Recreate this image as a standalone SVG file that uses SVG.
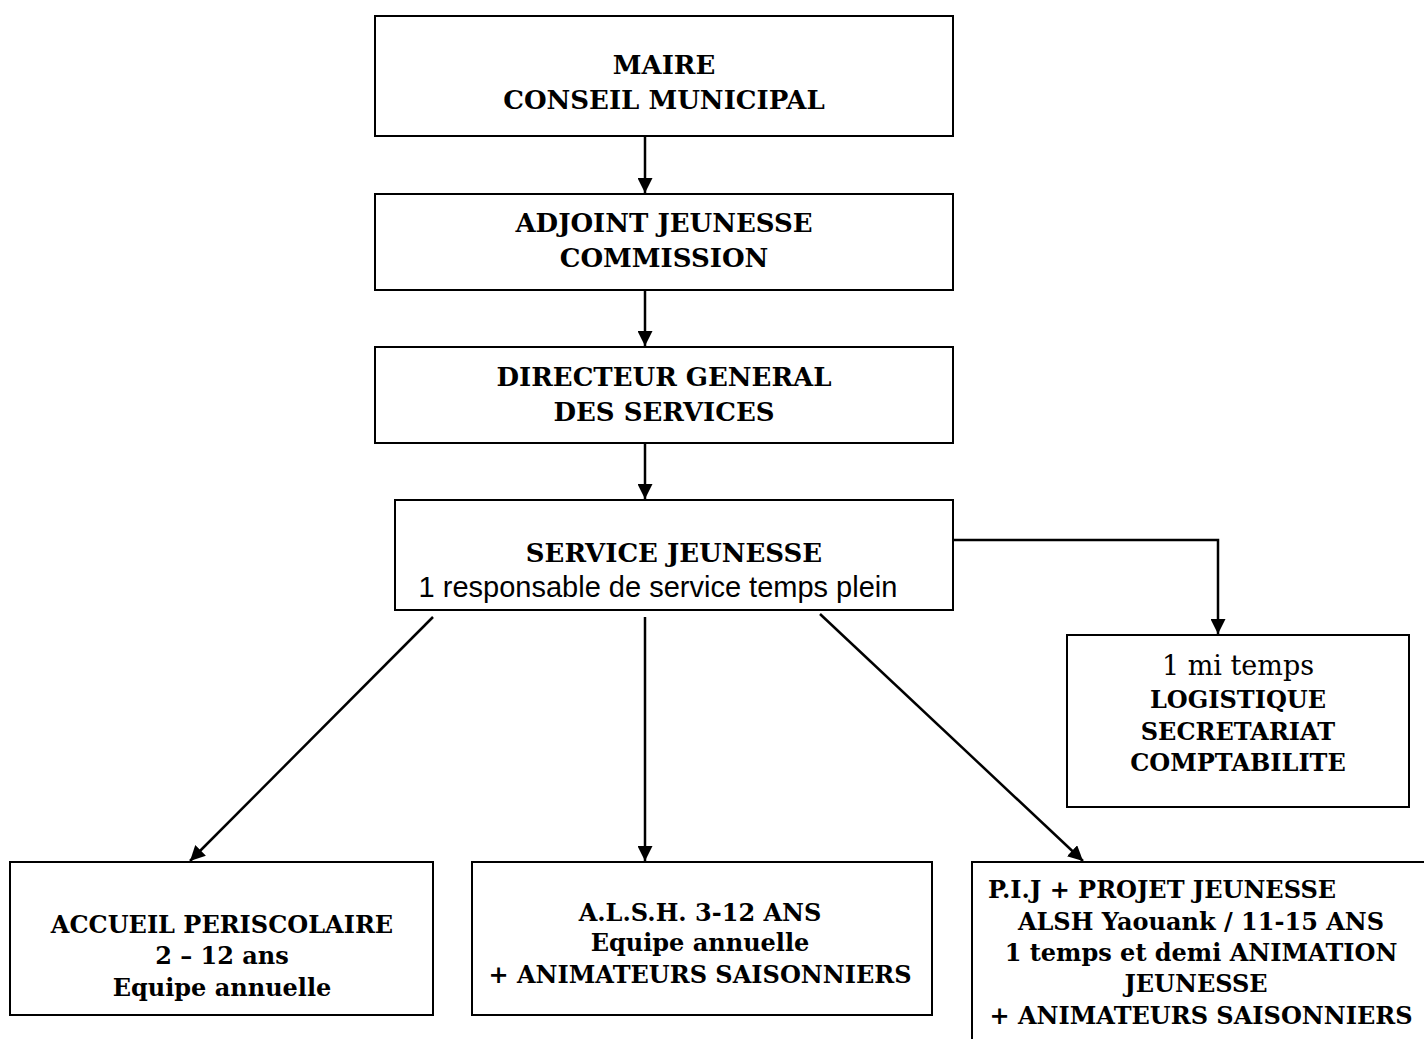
<svg xmlns="http://www.w3.org/2000/svg" width="1424" height="1039" viewBox="0 0 1424 1039">
<defs>
<marker id="ah" viewBox="0 0 10 10" refX="10" refY="5" markerWidth="6" markerHeight="6" markerUnits="strokeWidth" orient="auto">
<path d="M0,0 L10,5 L0,10 z" fill="#000"/>
</marker>
<style>
.box{fill:#fff;stroke:#000;stroke-width:2}
.t{font-family:"DejaVu Serif","Liberation Serif",serif;font-weight:bold;font-size:26px;text-anchor:middle;fill:#000}
.s{font-size:24px}
.r{font-weight:normal;font-size:27px}
.a{font-family:"Liberation Sans",Arial,sans-serif;font-weight:normal;font-size:29px}
.c{fill:none;stroke:#000;stroke-width:2.5;marker-end:url(#ah)}
</style>
</defs>
<rect width="1424" height="1039" fill="#fff"/>
<g id="connectors">
<path class="c" d="M645,137 V193"/>
<path class="c" d="M645,291 V346"/>
<path class="c" d="M645,444 V499"/>
<path class="c" d="M953,540 H1218 V634"/>
<path class="c" d="M433,617 L190,861"/>
<path class="c" d="M645,617 V861"/>
<path class="c" d="M820,614 L1083,861"/>
</g>
<g id="maire">
<rect class="box" x="375" y="16" width="578" height="120"/>
<text class="t" x="664" y="74">MAIRE</text>
<text class="t" x="664" y="109">CONSEIL MUNICIPAL</text>
</g>
<g id="adjoint">
<rect class="box" x="375" y="194" width="578" height="96"/>
<text class="t" x="664" y="232">ADJOINT JEUNESSE</text>
<text class="t" x="664" y="267">COMMISSION</text>
</g>
<g id="directeur">
<rect class="box" x="375" y="347" width="578" height="96"/>
<text class="t" x="664" y="386">DIRECTEUR GENERAL</text>
<text class="t" x="664" y="421">DES SERVICES</text>
</g>
<g id="service">
<rect class="box" x="395" y="500" width="558" height="110"/>
<text class="t" x="674" y="562">SERVICE JEUNESSE</text>
<text class="t a" x="658" y="597">1 responsable de service temps plein</text>
</g>
<g id="logistique">
<rect class="box" x="1067" y="635" width="342" height="172"/>
<text class="t r" x="1238" y="675">1 mi temps</text>
<text class="t s" x="1238" y="708">LOGISTIQUE</text>
<text class="t s" x="1238" y="740">SECRETARIAT</text>
<text class="t s" x="1238" y="771">COMPTABILITE</text>
</g>
<g id="accueil">
<rect class="box" x="10" y="862" width="423" height="153"/>
<text class="t s" x="222" y="933">ACCUEIL PERISCOLAIRE</text>
<text class="t s" x="222" y="964">2 – 12 ans</text>
<text class="t s" x="222" y="996">Equipe annuelle</text>
</g>
<g id="alsh">
<rect class="box" x="472" y="862" width="460" height="153"/>
<text class="t s" x="700" y="921">A.L.S.H. 3-12 ANS</text>
<text class="t s" x="700" y="951">Equipe annuelle</text>
<text class="t s" x="700" y="983">+ ANIMATEURS SAISONNIERS</text>
</g>
<g id="pij">
<rect class="box" x="972" y="862" width="460" height="190"/>
<text class="t s" x="1162" y="898">P.I.J + PROJET JEUNESSE</text>
<text class="t s" x="1201" y="930">ALSH Yaouank / 11-15 ANS</text>
<text class="t s" x="1201" y="961">1 temps et demi ANIMATION</text>
<text class="t s" x="1196" y="992">JEUNESSE</text>
<text class="t s" x="1201" y="1024">+ ANIMATEURS SAISONNIERS</text>
</g>
</svg>
